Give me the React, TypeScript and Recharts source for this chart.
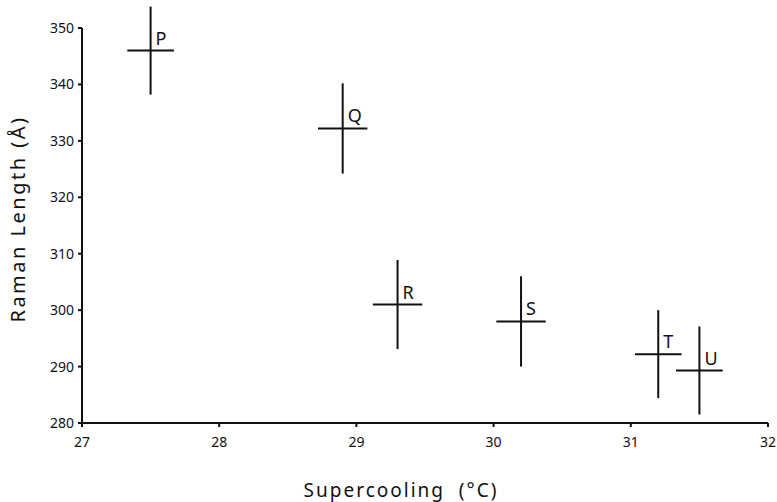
import { ErrorBar, Label, Scatter, ScatterChart, XAxis, YAxis } from 'recharts';

const names = ['P', 'Q', 'R', 'S', 'T', 'U'];
const supercooling = [27.5, 28.9, 29.3, 30.2, 31.2, 31.5];
const ramanLength = [346, 332.2, 301, 298, 292.2, 289.3];
const errSupercooling = [0.17, 0.18, 0.18, 0.18, 0.17, 0.17];
const errLength = [7.8, 8, 7.9, 8, 7.8, 7.8];

const xTicks = [27, 28, 29, 30, 31, 32];
const yTicks = [280, 290, 300, 310, 320, 330, 340, 350];

const font = '"Noto Sans", "DejaVu Sans", sans-serif';

const data = names.map((name, i) => ({
  name,
  x: supercooling[i],
  y: ramanLength[i],
  ex: errSupercooling[i],
  ey: errLength[i],
}));

function Letter(props: any) {
  const { cx, cy, payload } = props;
  return (
    <text x={cx + 5} y={cy - 6} fontSize={18} fontFamily={font} fill="#111">
      {payload.name}
    </text>
  );
}

export default function App() {
  return (
    <div style={{ position: 'absolute', left: 0, top: 0, background: '#fff' }}>
      <ScatterChart width={777} height={502} margin={{ top: 28, right: 9, bottom: 49, left: 42 }}>
        <XAxis
          type="number"
          dataKey="x"
          domain={[27, 32]}
          ticks={xTicks}
          allowDataOverflow
          height={30}
          stroke="#111"
          strokeWidth={2}
          tickSize={4}
          tickMargin={10}
          fontSize={14}
          fontFamily={font}
          tick={{ fill: '#111', fontSize: 14, fontFamily: font }}
        >
          <Label
            content={() => (
              <text
                x={401}
                y={497}
                textAnchor="middle"
                fontSize={19}
                letterSpacing={2}
                fontFamily={font}
                fill="#111"
                style={{ whiteSpace: 'pre' }}
              >
                {'Supercooling  (°C)'}
              </text>
            )}
          />
        </XAxis>
        <YAxis
          type="number"
          dataKey="y"
          domain={[280, 350]}
          ticks={yTicks}
          allowDataOverflow
          width={40}
          stroke="#111"
          strokeWidth={2}
          tickSize={4}
          tickMargin={4}
          fontSize={14}
          fontFamily={font}
          tick={{ fill: '#111', fontSize: 14, fontFamily: font }}
        >
          <Label
            content={() => (
              <text
                x={25}
                y={219}
                transform="rotate(-90 25 219)"
                textAnchor="middle"
                fontSize={20}
                letterSpacing={2.5}
                fontFamily={font}
                fill="#111"
                style={{ whiteSpace: 'pre' }}
              >
                {'Raman Length (Å)'}
              </text>
            )}
          />
        </YAxis>
        <Scatter data={data} shape={<Letter />} isAnimationActive={false}>
          <ErrorBar dataKey="ex" direction="x" width={0} stroke="#111" strokeWidth={2} isAnimationActive={false} />
          <ErrorBar dataKey="ey" direction="y" width={0} stroke="#111" strokeWidth={2} isAnimationActive={false} />
        </Scatter>
      </ScatterChart>
    </div>
  );
}
